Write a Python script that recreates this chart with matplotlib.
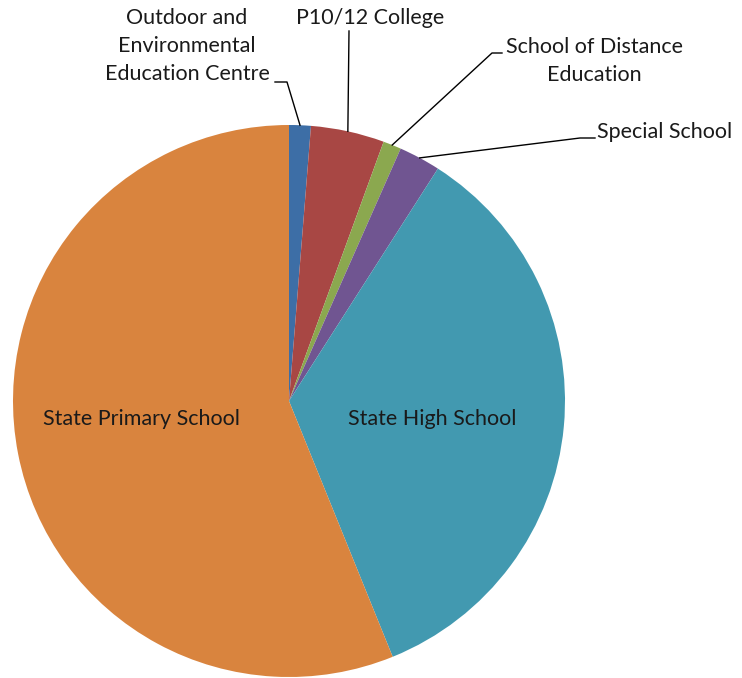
import matplotlib
matplotlib.use("Agg")
import matplotlib.pyplot as plt
import numpy as np

# school type shares (percent), clockwise from 12 o'clock
categories = ["Outdoor and\nEnvironmental\nEducation Centre", "P10/12 College",
              "School of Distance\nEducation", "Special School",
              "State High School", "State Primary School"]
shares = [1.27, 4.3, 1.06, 2.44, 34.8, 56.13]
colors = ["#3D6EA6", "#A84744", "#8BA84F", "#705591", "#4299B0", "#D9843E"]

W, H = 742, 678
fig = plt.figure(figsize=(W / 100, H / 100), dpi=100)
ax = fig.add_axes([0, 0, 1, 1])

cx, cy, r = 289, H - 401, 276
wedges, _ = ax.pie(shares, colors=colors, startangle=90, counterclock=False,
                   center=(cx, cy), radius=r, frame=True,
                   wedgeprops=dict(linewidth=0))
ax.set_xlim(0, W)
ax.set_ylim(0, H)
ax.set_aspect("equal")
ax.axis("off")

font = dict(family=["Lato", "DejaVu Sans"], fontsize=15.5, color="#1a1a1a")

# inside labels
ax.text(141, H - 419, categories[5], ha="center", va="center", **font)
ax.text(432, H - 419, categories[4], ha="center", va="center", **font)

# outside labels: text pos, alignment, leader path (from rim via elbow)
outside = {
    0: dict(xy=(187, H - 46), ha="center", path=[(287, H - 82), (275, H - 82)]),
    1: dict(xy=(370, H - 18), ha="center", path=[(349, H - 31)]),
    2: dict(xy=(594, H - 61), ha="center", path=[(492, H - 53), (502, H - 53)]),
    3: dict(xy=(597, H - 132), ha="left", path=[(580, H - 138), (595, H - 138)]),
}
for i, o in outside.items():
    w = wedges[i]
    mid = np.deg2rad((w.theta1 + w.theta2) / 2)
    rim = (cx + r * np.cos(mid), cy + r * np.sin(mid))
    pts = [rim] + o["path"]
    ax.plot([p[0] for p in pts], [p[1] for p in pts], color="black", lw=1)
    ax.text(o["xy"][0], o["xy"][1], categories[i], ha=o["ha"], va="center",
            multialignment="center", linespacing=1.5, **font)

fig.savefig("out.png", dpi=100)
